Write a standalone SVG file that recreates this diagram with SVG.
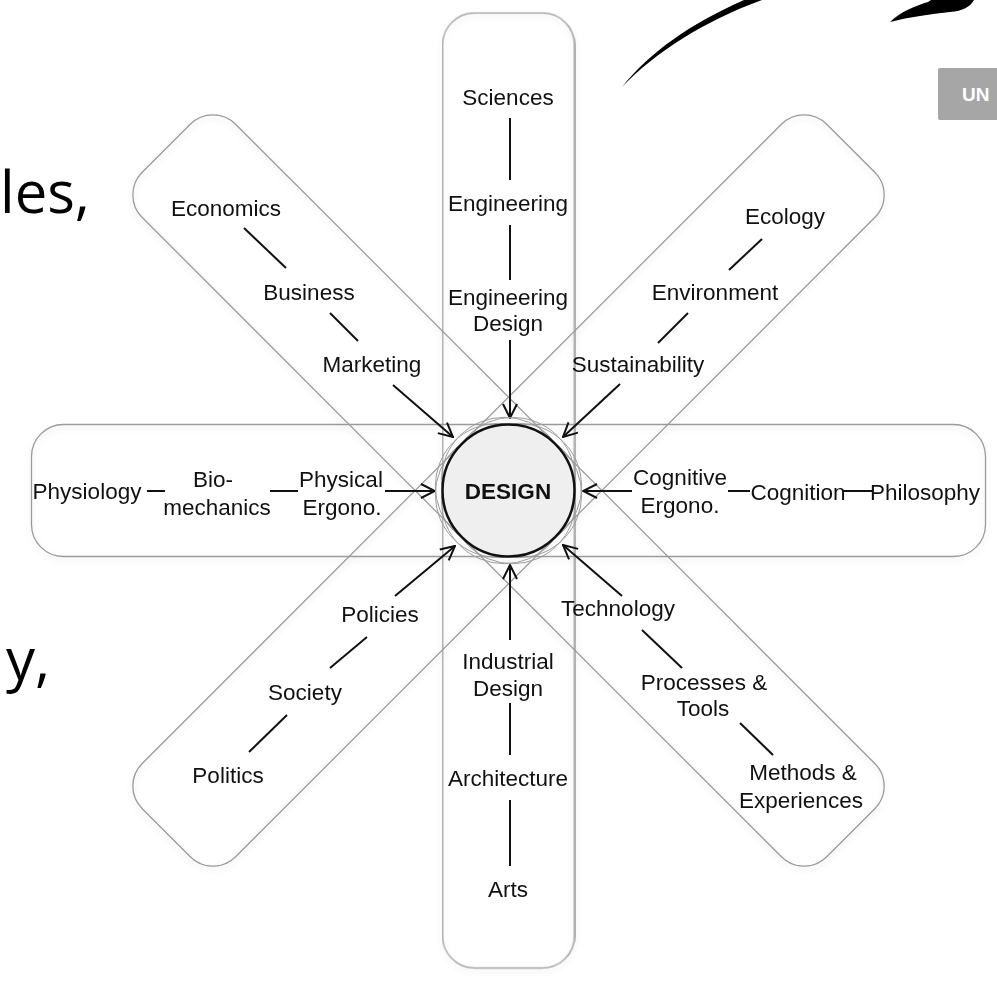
<svg xmlns="http://www.w3.org/2000/svg" width="997" height="982" viewBox="0 0 997 982">
  <style>
    .band { fill: none; stroke: #9a9a9a; stroke-width: 1.3; }
    .lbl { font-family: "Liberation Sans", Arial, Helvetica, sans-serif; font-size: 22.5px; fill: #111; text-anchor: middle; }
    .link { stroke: #111; stroke-width: 2; fill: none; }
    .arrow { stroke: #111; stroke-width: 2; fill: none; marker-end: url(#open); }
    .slide { font-family: "Open Sans", "Noto Sans", sans-serif; font-size: 58px; fill: #000; }
    .petal { fill: none; stroke: #9c9c9c; stroke-width: 1; }
  </style>
  <defs>
    <marker id="open" viewBox="0 0 16 16" refX="15" refY="8" markerWidth="16" markerHeight="16" markerUnits="userSpaceOnUse" orient="auto">
      <path d="M1,1 L15,8 L1,15" fill="none" stroke="#111" stroke-width="2"/>
    </marker>
    <filter id="soft" x="-5%" y="-5%" width="110%" height="110%">
      <feDropShadow dx="0" dy="3" stdDeviation="3" flood-color="#000" flood-opacity="0.12"/>
    </filter>
  </defs>

  <!-- background slide text running off the left edge -->
  <rect x="0" y="0" width="997" height="982" fill="#fff"/>
  <text class="slide" x="0" y="213">les,</text>
  <text class="slide" x="6" y="680">y,</text>

  <!-- swoosh and tab at top right -->
  <path d="M622,87 C650,52 690,24 744,0 L762,0 C702,22 656,52 622,87 Z" fill="#000"/>
  <path d="M890,22 C900,12 915,6 928,2 L931,0 L974,0 C970,7 963,11 950,12 C930,14 910,17 890,22 Z" fill="#000"/>
  <rect x="938" y="68" width="70" height="52" rx="2" fill="#a6a6a6"/>
  <text x="962" y="101" font-family="Liberation Sans, Arial, sans-serif" font-size="19" font-weight="bold" fill="#fff">UN</text>

  <!-- four bands crossing at the centre -->
  <g id="bands" filter="url(#soft)">
    <rect class="band" x="-477" y="-66" width="954" height="132" rx="32" transform="translate(508.5,490.5)"/>
    <rect class="band" x="-477.5" y="-66" width="955" height="132" rx="32" transform="translate(508.5,490.5) rotate(90)"/>
    <rect class="band" x="-484" y="-66" width="968" height="132" rx="32" transform="translate(508.5,490.5) rotate(45)"/>
    <rect class="band" x="-484" y="-66" width="968" height="132" rx="32" transform="translate(508.5,490.5) rotate(-45)"/>
  </g>

  <!-- connectors -->
  <g id="connectors">
    <!-- north -->
    <line class="link" x1="510" y1="118" x2="510" y2="180"/>
    <line class="link" x1="510" y1="225" x2="510" y2="280"/>
    <line class="arrow" x1="510" y1="340" x2="510" y2="418"/>
    <!-- south -->
    <line class="arrow" x1="510" y1="640" x2="510" y2="565"/>
    <line class="link" x1="510" y1="703" x2="510" y2="755"/>
    <line class="link" x1="510" y1="800" x2="510" y2="866"/>
    <!-- west -->
    <line class="link" x1="147" y1="491" x2="165" y2="491"/>
    <line class="link" x1="270" y1="491" x2="298" y2="491"/>
    <line class="arrow" x1="385" y1="491" x2="435" y2="491"/>
    <!-- east -->
    <line class="arrow" x1="632" y1="491" x2="583" y2="491"/>
    <line class="link" x1="728" y1="491" x2="750" y2="491"/>
    <line class="link" x1="843" y1="491" x2="872" y2="491"/>
    <!-- north-west -->
    <line class="link" x1="244" y1="228" x2="286" y2="268"/>
    <line class="link" x1="330" y1="313" x2="358" y2="341"/>
    <line class="arrow" x1="393" y1="385" x2="453" y2="437"/>
    <!-- north-east -->
    <line class="link" x1="762" y1="239" x2="729" y2="270"/>
    <line class="link" x1="688" y1="313" x2="658" y2="343"/>
    <line class="arrow" x1="620" y1="384" x2="563" y2="437"/>
    <!-- south-west -->
    <line class="link" x1="367" y1="637" x2="330" y2="668"/>
    <line class="link" x1="287" y1="715" x2="249" y2="752"/>
    <line class="arrow" x1="395" y1="596" x2="455" y2="546"/>
    <!-- south-east -->
    <line class="link" x1="642" y1="630" x2="682" y2="668"/>
    <line class="link" x1="740" y1="723" x2="773" y2="755"/>
    <line class="arrow" x1="622" y1="596" x2="563" y2="545"/>
  </g>

  <!-- centre node with scalloped halo -->
  <g id="design">
    <g transform="translate(508.5,490.5)">
      <circle class="petal" r="63" cx="10.2" cy="4.2"/>
      <circle class="petal" r="63" cx="4.2" cy="10.2"/>
      <circle class="petal" r="63" cx="-4.2" cy="10.2"/>
      <circle class="petal" r="63" cx="-10.2" cy="4.2"/>
      <circle class="petal" r="63" cx="-10.2" cy="-4.2"/>
      <circle class="petal" r="63" cx="-4.2" cy="-10.2"/>
      <circle class="petal" r="63" cx="4.2" cy="-10.2"/>
      <circle class="petal" r="63" cx="10.2" cy="-4.2"/>
      <circle r="66" fill="#efefef" stroke="#111" stroke-width="2.5"/>
    </g>
    <text class="lbl" x="508" y="499" font-weight="bold" font-size="20.5">DESIGN</text>
  </g>

  <!-- north chain -->
  <g id="sciences"><text class="lbl" x="508" y="105">Sciences</text></g>
  <g id="engineering"><text class="lbl" x="508" y="211">Engineering</text></g>
  <g id="engineering-design"><text class="lbl" x="508" y="305">Engineering</text><text class="lbl" x="508" y="331">Design</text></g>

  <!-- south chain -->
  <g id="industrial-design"><text class="lbl" x="508" y="669">Industrial</text><text class="lbl" x="508" y="696">Design</text></g>
  <g id="architecture"><text class="lbl" x="508" y="786">Architecture</text></g>
  <g id="arts"><text class="lbl" x="508" y="897">Arts</text></g>

  <!-- west chain -->
  <g id="physiology"><text class="lbl" x="87" y="499">Physiology</text></g>
  <g id="biomechanics"><text class="lbl" x="213" y="487">Bio-</text><text class="lbl" x="217" y="515">mechanics</text></g>
  <g id="physical-ergo"><text class="lbl" x="341" y="487">Physical</text><text class="lbl" x="342" y="515">Ergono.</text></g>

  <!-- east chain -->
  <g id="cognitive-ergo"><text class="lbl" x="680" y="485">Cognitive</text><text class="lbl" x="680" y="513">Ergono.</text></g>
  <g id="cognition"><text class="lbl" x="798" y="500">Cognition</text></g>
  <g id="philosophy"><text class="lbl" x="925" y="500">Philosophy</text></g>

  <!-- north-west chain -->
  <g id="economics"><text class="lbl" x="226" y="216">Economics</text></g>
  <g id="business"><text class="lbl" x="309" y="300">Business</text></g>
  <g id="marketing"><text class="lbl" x="372" y="372">Marketing</text></g>

  <!-- north-east chain -->
  <g id="ecology"><text class="lbl" x="785" y="224">Ecology</text></g>
  <g id="environment"><text class="lbl" x="715" y="300">Environment</text></g>
  <g id="sustainability"><text class="lbl" x="638" y="372">Sustainability</text></g>

  <!-- south-west chain -->
  <g id="policies"><text class="lbl" x="380" y="622">Policies</text></g>
  <g id="society"><text class="lbl" x="305" y="700">Society</text></g>
  <g id="politics"><text class="lbl" x="228" y="783">Politics</text></g>

  <!-- south-east chain -->
  <g id="technology"><text class="lbl" x="618" y="616">Technology</text></g>
  <g id="processes"><text class="lbl" x="704" y="690">Processes &amp;</text><text class="lbl" x="703" y="716">Tools</text></g>
  <g id="methods"><text class="lbl" x="803" y="780">Methods &amp;</text><text class="lbl" x="801" y="808">Experiences</text></g>
</svg>
